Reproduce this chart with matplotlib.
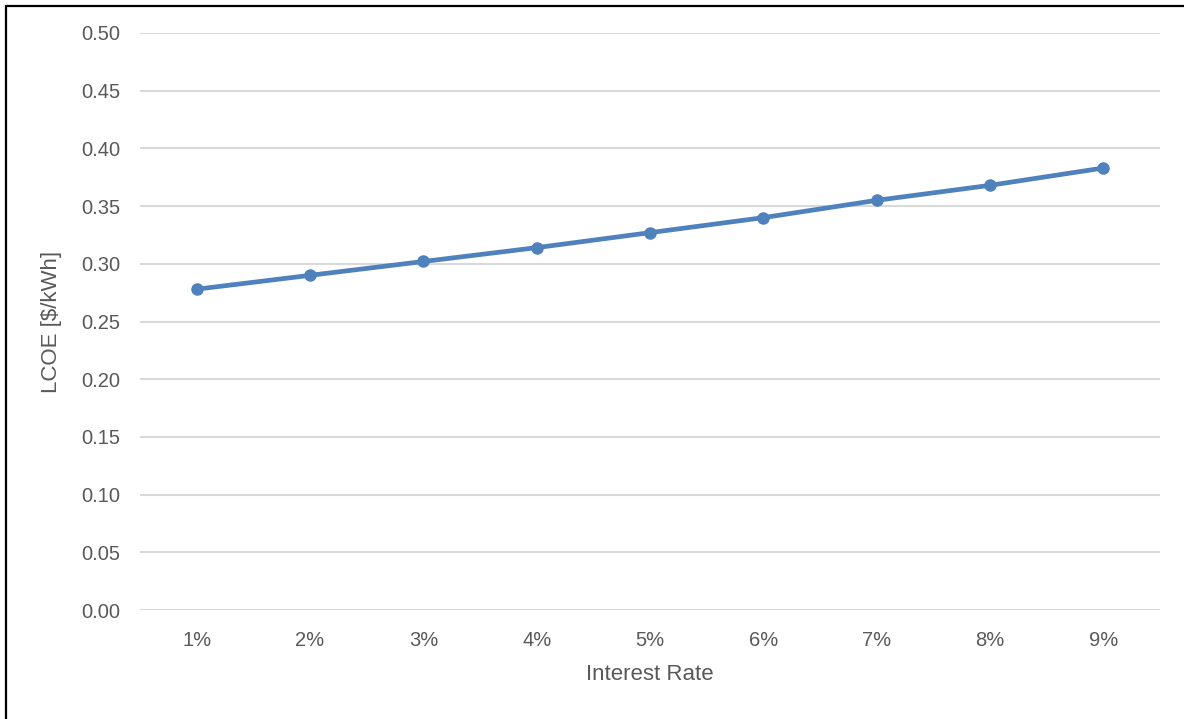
import matplotlib
matplotlib.use("Agg")
import matplotlib.pyplot as plt
from matplotlib.patches import Rectangle

rates = ["1%", "2%", "3%", "4%", "5%", "6%", "7%", "8%", "9%"]
lcoe = [0.278, 0.290, 0.302, 0.314, 0.327, 0.340, 0.355, 0.368, 0.383]
y_ticks = [0.00, 0.05, 0.10, 0.15, 0.20, 0.25, 0.30, 0.35, 0.40, 0.45, 0.50]

plt.rcParams["font.family"] = ["Liberation Sans", "DejaVu Sans"]
text_color = "#595959"

fig = plt.figure(figsize=(11.84, 7.19), dpi=100)
ax = fig.add_axes([140 / 1184, 109 / 719, 1020 / 1184, 577 / 719])

x = list(range(1, len(rates) + 1))
ax.plot(x, lcoe, color="#4f81bd", linewidth=3.4, marker="o", markersize=8,
        solid_capstyle="round", zorder=3)

ax.set_xlim(0.5, len(rates) + 0.5)
ax.set_ylim(0, 0.5)
ax.set_yticks(y_ticks)
ax.set_yticklabels([f"{v:.2f}" for v in y_ticks])
ax.set_xticks(x)
ax.set_xticklabels(rates)

ax.grid(axis="y", color="#d9d9d9", linewidth=1.5)
ax.set_axisbelow(True)
for s in ax.spines.values():
    s.set_visible(False)
ax.tick_params(axis="both", length=0, labelsize=14.5, colors=text_color)
ax.tick_params(axis="y", pad=14)
ax.tick_params(axis="x", pad=15)

ax.set_xlabel("Interest Rate", fontsize=16, color=text_color, labelpad=10)
ax.set_ylabel("LCOE [$/kWh]", fontsize=16, color=text_color, labelpad=14)

# Outer frame around the chart
fig.patches.append(Rectangle((6 / 1184, -0.05), 1.2, (719 - 6) / 719 + 0.05,
                             transform=fig.transFigure, fill=False,
                             edgecolor="black", linewidth=1.6, zorder=10))

fig.savefig("out.png", dpi=100)
